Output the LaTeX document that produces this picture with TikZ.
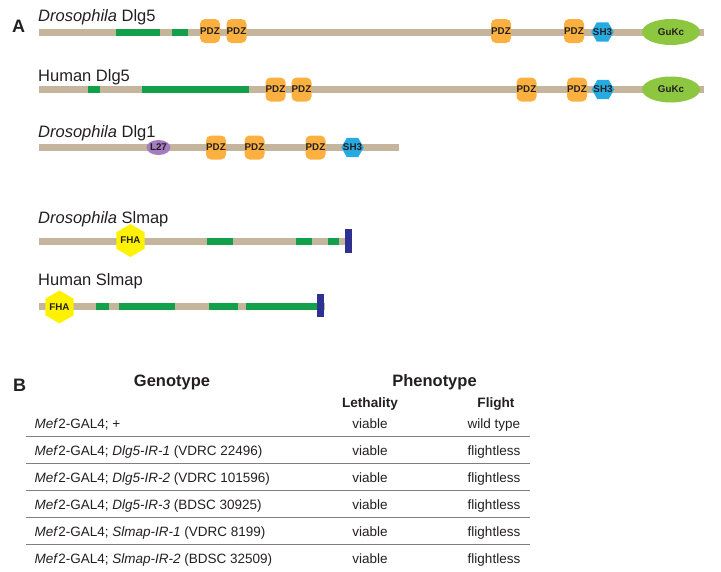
\documentclass[tikz,border=0pt]{standalone}
\usepackage{fontspec}
\setmainfont{Liberation Sans}
\usetikzlibrary{shapes.geometric}

\definecolor{chaincol}{HTML}{C4B59C}
\definecolor{coilcol}{HTML}{12A14A}
\definecolor{pdzcol}{HTML}{FBB040}
\definecolor{shcol}{HTML}{27AAE1}
\definecolor{gukcol}{HTML}{8DC63F}
\definecolor{lcol}{HTML}{A57CBF}
\definecolor{fhacol}{HTML}{FFF200}
\definecolor{tmcol}{HTML}{2E3192}
\definecolor{inkcol}{HTML}{231F20}
\definecolor{rulecol}{HTML}{7F7F7F}

\newcommand{\fsz}[1]{\fontsize{#1}{#1}\selectfont}

\tikzset{
  chain/.style={line width=7pt, color=chaincol},
  coilseg/.style={line width=7pt, color=coilcol},
  domtext/.style={inner sep=0pt, text=inkcol, font=\fsz{9.8}\bfseries},
  pdzbox/.style={domtext, rectangle, rounded corners=5pt, fill=pdzcol,
    minimum width=20pt, minimum height=24pt},
  shhex/.style={regular polygon, regular polygon sides=6, inner sep=0pt,
    fill=shcol, minimum size=22.5pt, label={[domtext]center:SH3}},
  fhahex/.style={domtext, regular polygon, regular polygon sides=6,
    shape border rotate=30, fill=fhacol, minimum size=27pt},
  gukoval/.style={domtext, ellipse, fill=gukcol, minimum width=58pt,
    minimum height=26pt},
  loval/.style={domtext, ellipse, fill=lcol, minimum width=23pt,
    minimum height=15pt},
  protname/.style={anchor=base west, inner sep=0pt, text=inkcol, font=\fsz{16.5}},
  panel/.style={anchor=base west, inner sep=0pt, text=inkcol, font=\fsz{18}\bfseries},
  colhead/.style={anchor=base, inner sep=0pt, text=inkcol, font=\fsz{16.5}\bfseries},
  subhead/.style={anchor=base, inner sep=0pt, text=inkcol, font=\fsz{13.6}\bfseries},
  cell/.style={anchor=base, inner sep=0pt, text=inkcol, font=\fsz{13.5}},
  tablerule/.style={line width=1.1pt, color=rulecol}
}

\begin{document}
\begin{tikzpicture}[x=1pt, y=-1pt]

  \useasboundingbox (0,0) rectangle (721,571);

  % Panel A
  \node[panel] (panelA) at (12,32) {A};

  % Drosophila Dlg5
  \node[protname] (nameDmDlg5) at (38,21) {\textit{Drosophila} Dlg5};
  \draw[chain] (39,32) -- (704,32);
  \foreach \a/\b in {116/160,172/188}
    \draw[coilseg] (\a,32) -- (\b,32);
  \node[pdzbox] (dmDlg5pdz1) at (210,31) {PDZ};
  \node[pdzbox] (dmDlg5pdz2) at (236.5,31) {PDZ};
  \node[pdzbox] (dmDlg5pdz3) at (501,31) {PDZ};
  \node[pdzbox] (dmDlg5pdz4) at (574,31) {PDZ};
  \node[shhex] (dmDlg5sh) at (602.5,32) {};
  \node[gukoval] (dmDlg5guk) at (671,32) {GuKc};

  % Human Dlg5
  \node[protname] (nameHsDlg5) at (38,81) {Human Dlg5};
  \draw[chain] (39,89.5) -- (704,89.5);
  \foreach \a/\b in {88/100,142/249}
    \draw[coilseg] (\a,89.5) -- (\b,89.5);
  \node[pdzbox] (hsDlg5pdz1) at (275.5,89.5) {PDZ};
  \node[pdzbox] (hsDlg5pdz2) at (301.5,89.5) {PDZ};
  \node[pdzbox] (hsDlg5pdz3) at (526.5,89.5) {PDZ};
  \node[pdzbox] (hsDlg5pdz4) at (577,89.5) {PDZ};
  \node[shhex] (hsDlg5sh) at (603,89.5) {};
  \node[gukoval] (hsDlg5guk) at (671,89.5) {GuKc};

  % Drosophila Dlg1
  \node[protname] (nameDmDlg1) at (38,137) {\textit{Drosophila} Dlg1};
  \draw[chain] (39,147) -- (399,147);
  \node[loval] (dmDlg1l) at (158.5,147.5) {L27};
  \node[pdzbox] (dmDlg1pdz1) at (216,147.5) {PDZ};
  \node[pdzbox] (dmDlg1pdz2) at (254.5,147.5) {PDZ};
  \node[pdzbox] (dmDlg1pdz3) at (315.5,147.5) {PDZ};
  \node[shhex] (dmDlg1sh) at (352.5,147.5) {};

  % Drosophila Slmap
  \node[protname] (nameDmSlmap) at (38,223) {\textit{Drosophila} Slmap};
  \draw[chain] (39,241) -- (345,241);
  \foreach \a/\b in {207/233,296/312,328/339}
    \draw[coilseg] (\a,241) -- (\b,241);
  \node[fhahex] (dmSlmapfha) at (130.5,240.5) {FHA};
  \fill[tmcol] (345,229) rectangle (352,253);

  % Human Slmap
  \node[protname] (nameHsSlmap) at (38,285) {Human Slmap};
  \draw[chain] (39,306) -- (325,306);
  \foreach \a/\b in {96/109,119/175,209/238,246/317}
    \draw[coilseg] (\a,306) -- (\b,306);
  \node[fhahex] (hsSlmapfha) at (59.5,307) {FHA};
  \fill[tmcol] (317,294) rectangle (324,317);

  % Panel B
  \node[panel] (panelB) at (13,391) {B};
  \node[colhead] (headGeno) at (172,386) {Genotype};
  \node[colhead] (headPheno) at (434.5,386) {Phenotype};
  \node[subhead] (headLeth) at (370,407) {Lethality};
  \node[subhead] (headFlight) at (496,407) {Flight};

  % Table rows
  \foreach \i/\geno/\flight in {
      0/{+}/{wild type},
      1/{\textit{Dlg5-IR-1} (VDRC 22496)}/flightless,
      2/{\textit{Dlg5-IR-2} (VDRC 101596)}/flightless,
      3/{\textit{Dlg5-IR-3} (BDSC 30925)}/flightless,
      4/{\textit{Slmap-IR-1} (VDRC 8199)}/flightless,
      5/{\textit{Slmap-IR-2} (BDSC 32509)}/flightless} {
    \node[cell, anchor=base west] (geno\i) at (34.5,428+27*\i) {\textit{Mef}2-GAL4; \geno};
    \node[cell] (leth\i) at (370,428+27*\i) {viable};
    \node[cell] (flight\i) at (494,428+27*\i) {\flight};
  }

  % Rules between rows
  \foreach \i in {0,...,4}
    \draw[tablerule] (26,436.5+27*\i) -- (530,436.5+27*\i);

\end{tikzpicture}
\end{document}
